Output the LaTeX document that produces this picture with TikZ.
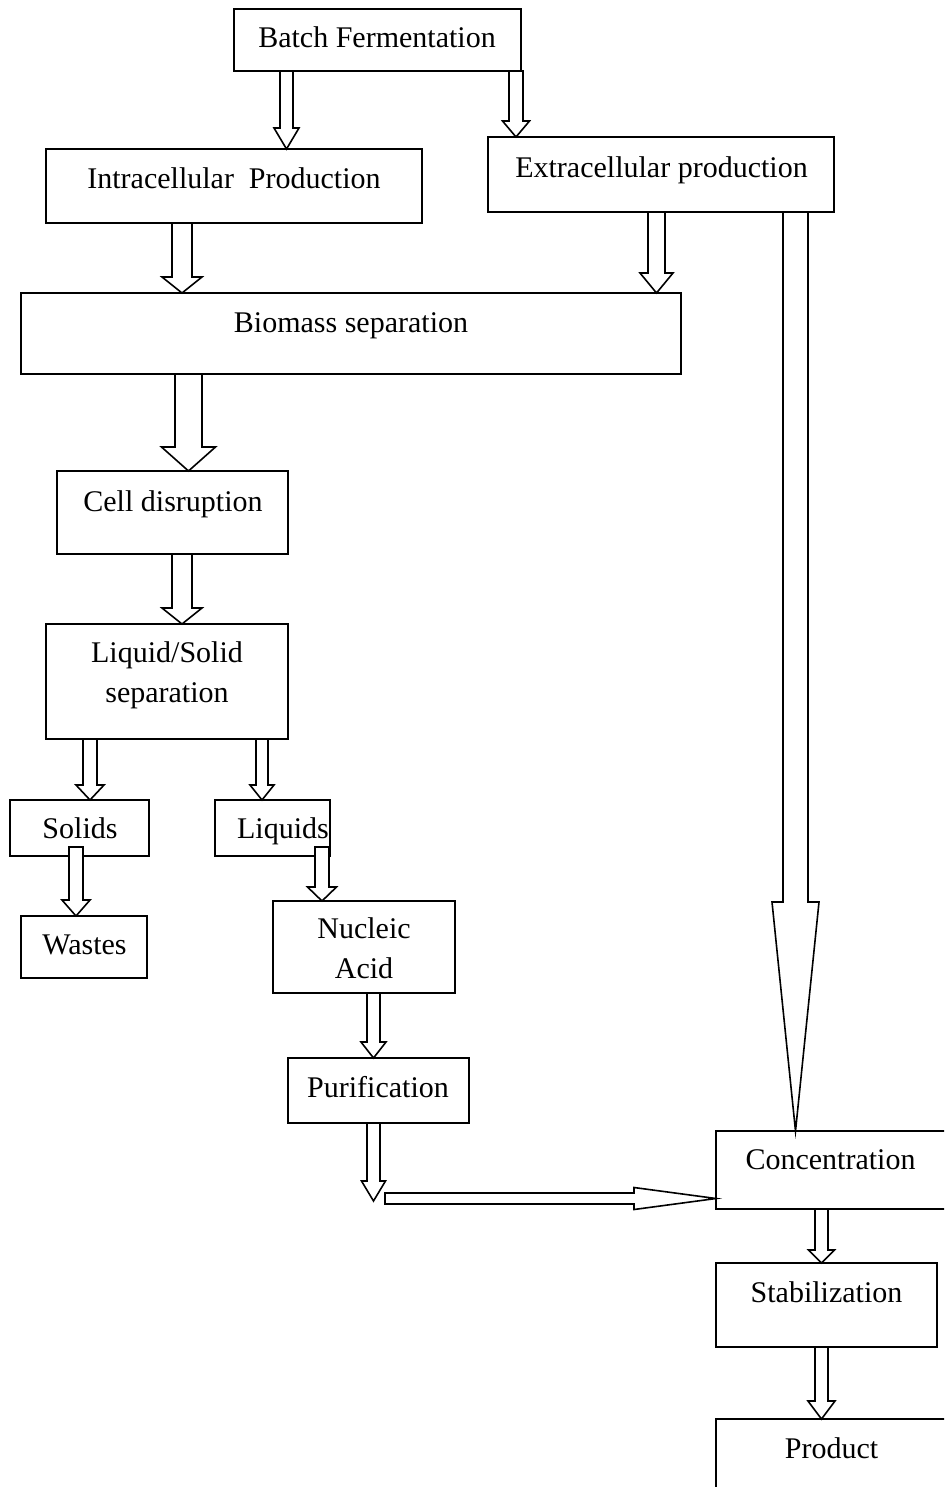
\documentclass[tikz,border=0pt]{standalone}
\usepackage{fontspec}
\setmainfont{Liberation Serif}
\usetikzlibrary{calc}

% box from its left, top, right and bottom edge (px)
\newcommand\procbox[5]{%
  \node[flowbox, minimum width={(#4-#2)*\unit}, minimum height={(#5-#3)*\unit}]
    (#1) at ({(#2+#4)/2}, {(#3+#5)/2}) {};}

% hollow arrow pointing down: [lift of start], from, to, x, shaft half, head half, head length (px)
\newcommand\downblock[7][0]{%
  \draw[blockarrow] let \p1=(#2), \p2=(#3) in
    ({(#4-#5)*\unit}, {\y1+#1*\unit}) -- ({(#4-#5)*\unit}, {\y2+#7*\unit})
    -- ({(#4-#6)*\unit}, {\y2+#7*\unit}) -- ({#4*\unit}, \y2)
    -- ({(#4+#6)*\unit}, {\y2+#7*\unit}) -- ({(#4+#5)*\unit}, {\y2+#7*\unit})
    -- ({(#4+#5)*\unit}, {\y1+#1*\unit}) -- cycle;}

% hollow arrow pointing right: from, to, shaft half, head half, head length (px)
\newcommand\rightblock[5]{%
  \draw[blockarrow] let \p1=(#1), \p2=(#2) in
    (\x1, {\y1+#3*\unit}) -- ({\x2-#5*\unit}, {\y1+#3*\unit})
    -- ({\x2-#5*\unit}, {\y1+#4*\unit}) -- (\x2, \y1)
    -- ({\x2-#5*\unit}, {\y1-#4*\unit}) -- ({\x2-#5*\unit}, {\y1-#3*\unit})
    -- (\x1, {\y1-#3*\unit}) -- cycle;}

\begin{document}
\begin{tikzpicture}[
  x=0.5pt, y=-0.5pt,
  flowbox/.style={draw, line width=0.8pt, outer sep=0pt, inner sep=0pt},
  blockarrow/.style={draw, fill=white, line width=0.8pt, line join=miter},
  boxtext/.style={font=\fontsize{15}{20}\selectfont, align=center, inner sep=0pt, anchor=base},
]
  % Scale: 1px = 0.5pt, y runs downwards (0 at top)
  \def\unit{0.5pt}

  % Page, cut at the right and bottom edge
  \useasboundingbox (0,0) rectangle (944,1487);
  \clip (0,0) rectangle (944,1487);

  % Process boxes
  \procbox{batch}{234}{9}{521}{71}
  \procbox{intra}{46}{149}{422}{223}
  \procbox{extra}{488}{137}{834}{212}
  \procbox{biomass}{21}{293}{681}{374}
  \procbox{cell}{57}{471}{288}{554}
  \procbox{liqsol}{46}{624}{288}{739}
  \procbox{solids}{10}{800}{149}{856}
  \procbox{liquids}{215}{800}{330}{856}
  \procbox{wastes}{21}{916}{147}{978}
  \procbox{nucleic}{273}{901}{455}{993}
  \procbox{purif}{288}{1058}{469}{1123}
  \procbox{conc}{716}{1131}{952}{1209}
  \procbox{stab}{716}{1263}{937}{1347}
  \procbox{product}{716}{1419}{952}{1500}

  % Box texts, set on their (last) baselines
  \node[boxtext] (batch-t)   at (377,48)    {Batch Fermentation};
  \node[boxtext] (intra-t)   at (234,189)   {Intracellular\ \ Production};
  \node[boxtext] (extra-t)   at (661.5,178) {Extracellular production};
  \node[boxtext] (biomass-t) at (351,332)   {Biomass separation};
  \node[boxtext] (cell-t)    at (173,511)   {Cell disruption};
  \node[boxtext] (liqsol-t)  at (167,702)   {Liquid/Solid\\separation};
  \node[boxtext] (solids-t)  at (80,838)    {Solids};
  \node[boxtext] (liquids-t) at (283,838)   {Liquids};
  \node[boxtext] (wastes-t)  at (84.5,954)  {Wastes};
  \node[boxtext] (nucleic-t) at (364,978)   {Nucleic\\Acid};
  \node[boxtext] (purif-t)   at (378,1097)  {Purification};
  \node[boxtext] (conc-t)    at (830.5,1169) {Concentration};
  \node[boxtext] (stab-t)    at (826.5,1302) {Stabilization};
  \node[boxtext] (product-t) at (831.5,1458) {Product};

  % Turning point below Purification
  \coordinate (purif-tip)  at (373.5,1201);
  \coordinate (purif-turn) at (385,1198.5);

  % Block arrows
  \downblock{batch.south}{intra.north}{286.5}{6.5}{12.5}{21}
  \downblock{batch.south}{extra.north}{516}{7}{13.5}{16}
  \downblock{intra.south}{biomass.north}{182}{10}{20}{16}
  \downblock{extra.south}{biomass.north}{656.5}{8.5}{16.5}{20}
  \downblock{biomass.south}{cell.north}{188.5}{13.5}{27}{24}
  \downblock{cell.south}{liqsol.north}{182}{10}{20}{16}
  \downblock{liqsol.south}{solids.north}{90}{7}{14}{15}
  \downblock{liqsol.south}{liquids.north}{262}{6}{12}{15}
  \downblock[9]{solids.south}{wastes.north}{76}{7}{14}{16}
  \downblock[9]{liquids.south}{nucleic.north}{322}{7}{14.5}{14}
  \downblock{nucleic.south}{purif.north}{373.5}{6.5}{12.5}{16}
  \downblock{purif.south}{purif-tip}{373.5}{6.5}{12}{20}
  \rightblock{purif-turn}{conc.west}{5.5}{11}{82}
  \downblock{extra.south}{conc.north}{795.5}{12.5}{23.5}{229}
  \downblock{conc.south}{stab.north}{821.5}{6.5}{13}{13}
  \downblock{stab.south}{product.north}{821.5}{6.5}{13.5}{18}
\end{tikzpicture}
\end{document}
